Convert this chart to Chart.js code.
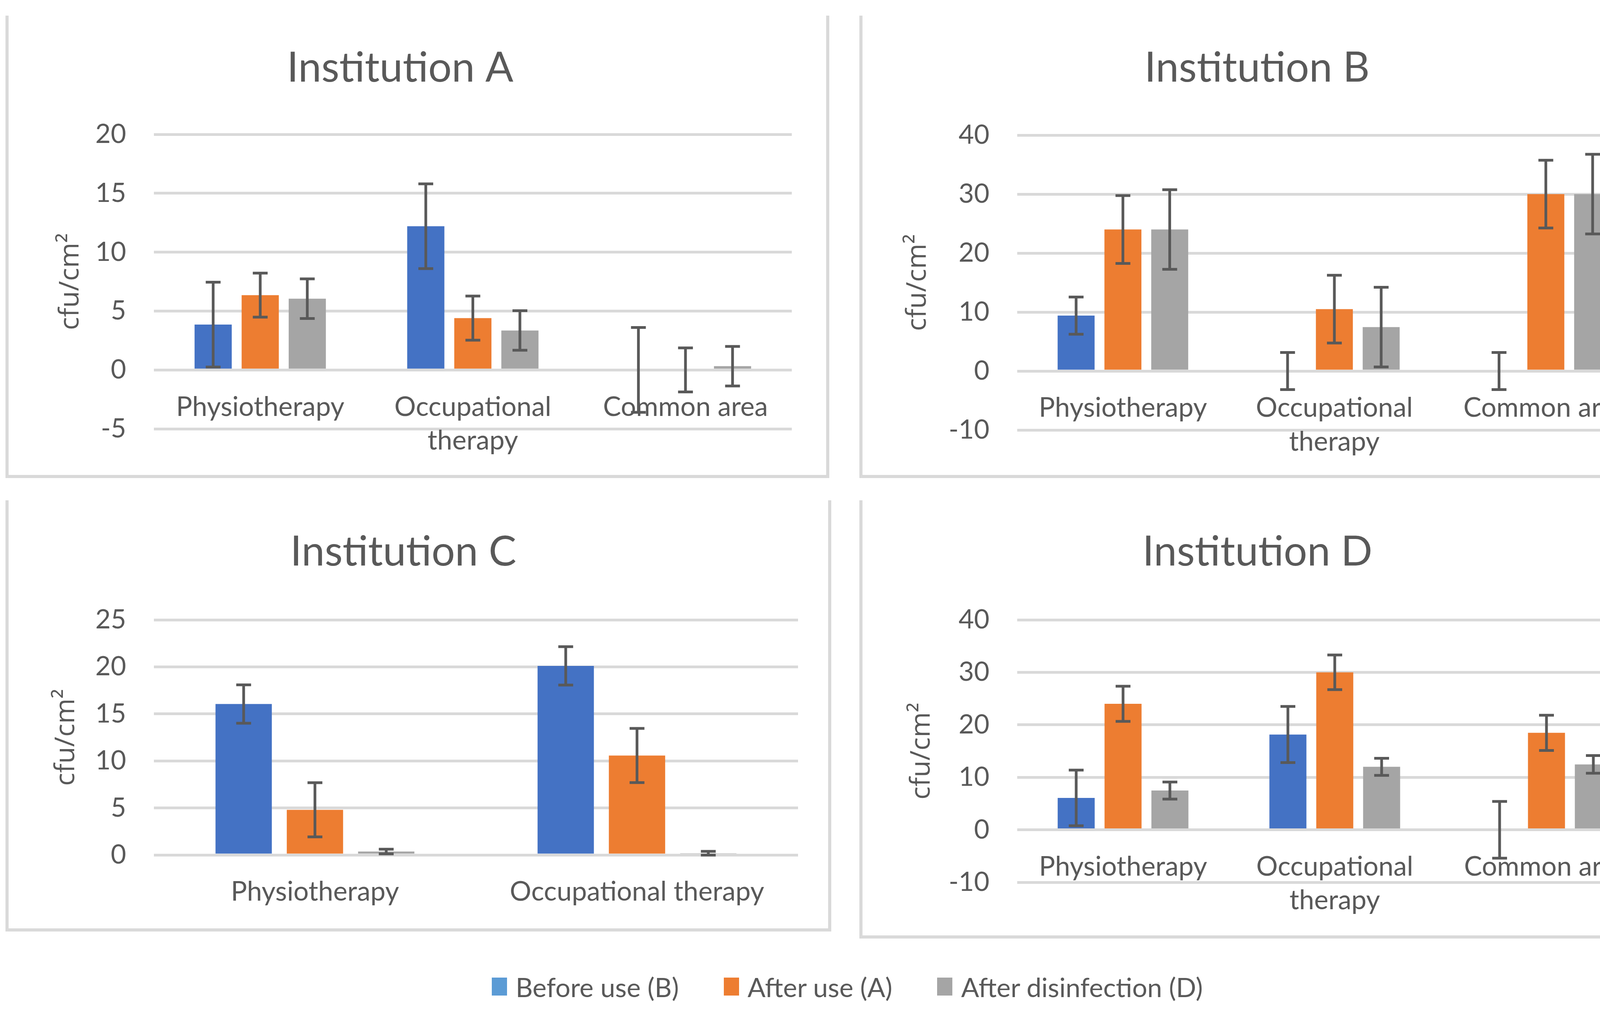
<!DOCTYPE html>
<html>
<head>
<meta charset="utf-8">
<script src="https://cdn.jsdelivr.net/npm/chart.js@4.4.1/dist/chart.umd.min.js"></script>
<style>
  html, body { margin: 0; padding: 0; background: #fff; }
  body { width: 4338px; height: 2586px; position: relative; overflow: hidden; font-family: Lato, sans-serif; }
  .panel { position: absolute; box-sizing: border-box; border: 8px solid #d9d9d9; border-top: none; }
  .panel canvas { display: block; }
  #legend { position: absolute; left: 0; top: 2490px; width: 4338px; height: 72px;
            display: flex; justify-content: center; align-items: center; gap: 115px;
            color: #595959; font-size: 68px; }
  .item { display: flex; align-items: center; gap: 22px; }
  .sw { width: 39px; height: 46px; }
</style>
</head>
<body>
<div id="legend"></div>
<script>
// categories
const catsThree = ['Physiotherapy', ['Occupational', 'therapy'], 'Common area'];
const catsTwo = ['Physiotherapy', 'Occupational therapy'];
const seriesNames = ['Before use (B)', 'After use (A)', 'After disinfection (D)'];
const barColors = ['#4472C4', '#ED7D31', '#A5A5A5'];
const legendColors = ['#5B9BD5', '#ED7D31', '#A5A5A5'];

// Institution A
const aBefore = [3.85, 12.2, 0];
const aBeforeErr = [3.6, 3.6, 3.6];
const aAfter = [6.35, 4.4, 0];
const aAfterErr = [1.87, 1.87, 1.87];
const aDisinf = [6.05, 3.35, 0.32];
const aDisinfErr = [1.68, 1.68, 1.68];

// Institution B
const bBefore = [9.4, 0, 0];
const bBeforeErr = [3.15, 3.15, 3.15];
const bAfter = [24.0, 10.5, 30.0];
const bAfterErr = [5.75, 5.75, 5.75];
const bDisinf = [24.0, 7.45, 30.0];
const bDisinfErr = [6.75, 6.75, 6.75];

// Institution C
const cBefore = [16.05, 20.1];
const cBeforeErr = [2.04, 2.04];
const cAfter = [4.8, 10.57];
const cAfterErr = [2.88, 2.88];
const cDisinf = [0.36, 0.18];
const cDisinfErr = [0.25, 0.2];

// Institution D
const dBefore = [6.07, 18.15, 0];
const dBeforeErr = [5.3, 5.35, 5.4];
const dAfter = [24.0, 30.0, 18.47];
const dAfterErr = [3.35, 3.3, 3.35];
const dDisinf = [7.48, 12.0, 12.46];
const dDisinfErr = [1.63, 1.63, 1.68];

// y axis ranges
const yMinA = -5, yMaxA = 20, yStepA = 5;
const yMinB = -10, yMaxB = 40, yStepB = 10;
const yMinC = 0, yMaxC = 25, yStepC = 5;
const yMinD = -10, yMaxD = 40, yStepD = 10;

const textColor = '#595959';
const fontFam = 'Lato, sans-serif';

const errorBars = {
  id: 'errorBars',
  afterDatasetsDraw(chart) {
    const ctx = chart.ctx;
    const y = chart.scales.y;
    ctx.save();
    ctx.strokeStyle = '#595959';
    ctx.lineWidth = 7;
    chart.data.datasets.forEach((ds, i) => {
      const meta = chart.getDatasetMeta(i);
      meta.data.forEach((bar, j) => {
        const v = ds.data[j], e = ds.errors[j];
        const top = y.getPixelForValue(v + e);
        const bot = y.getPixelForValue(v - e);
        ctx.beginPath();
        ctx.moveTo(bar.x, top); ctx.lineTo(bar.x, bot);
        ctx.moveTo(bar.x - 19, top); ctx.lineTo(bar.x + 19, top);
        ctx.moveTo(bar.x - 19, bot); ctx.lineTo(bar.x + 19, bot);
        ctx.stroke();
      });
    });
    ctx.restore();
  }
};

function makePanel(p) {
  const div = document.createElement('div');
  div.className = 'panel';
  div.style.left = p.left + 'px';
  div.style.top = p.top + 'px';
  div.style.width = p.w + 'px';
  div.style.height = p.h + 'px';
  const cw = p.w - 16, ch = p.h - 8;
  const canvas = document.createElement('canvas');
  canvas.width = cw;
  canvas.height = ch;
  canvas.style.width = cw + 'px';
  canvas.style.height = ch + 'px';
  div.appendChild(canvas);
  document.body.appendChild(div);

  const titleSize = 106, titleLH = titleSize * 1.2;
  const tPadTop = p.titleY - titleLH / 2;
  const axSize = 70, axLH = axSize * 1.2;

  new Chart(canvas, {
    type: 'bar',
    data: {
      labels: p.labels,
      datasets: p.series.map((s, i) => ({
        label: seriesNames[i],
        data: s[0],
        errors: s[1],
        backgroundColor: barColors[i],
        borderWidth: 0,
        categoryPercentage: 0.664,
        barPercentage: 0.79
      }))
    },
    options: {
      responsive: false,
      animation: false,
      devicePixelRatio: 1,
      layout: { padding: { left: 0, top: 0, right: cw - p.plotRight, bottom: ch - p.plotBottom } },
      plugins: {
        legend: { display: false },
        tooltip: { enabled: false },
        title: {
          display: true, text: p.title, color: textColor,
          font: { family: fontFam, size: titleSize, weight: 'normal', lineHeight: 1.2 },
          padding: { top: tPadTop, bottom: p.plotTop - tPadTop - titleLH }
        }
      },
      scales: {
        x: {
          position: { y: 0 },
          grid: { display: false, drawTicks: false },
          border: { display: false },
          ticks: { padding: 52, color: textColor, maxRotation: 0, autoSkip: false,
                   font: { family: fontFam, size: 69, lineHeight: 1.25 } }
        },
        y: {
          min: p.yMin, max: p.yMax,
          ticks: { stepSize: p.yStep, padding: 71, color: textColor,
                   font: { family: fontFam, size: 68 } },
          grid: { color: '#d9d9d9', lineWidth: 7, drawTicks: false },
          border: { display: false },
          title: {
            display: true, text: 'cfu/cm²', color: textColor,
            font: { family: '"Open Sans", sans-serif', size: axSize, lineHeight: 1.2 },
            padding: { top: p.axisX - axLH / 2, bottom: 0 }
          },
          afterFit(s) { s.width = p.plotLeft; }
        }
      }
    },
    plugins: [errorBars]
  });
}

makePanel({ left: 14, top: 40, w: 2109, h: 1184, title: 'Institution A', labels: catsThree,
  series: [[aBefore, aBeforeErr], [aAfter, aAfterErr], [aDisinf, aDisinfErr]],
  yMin: yMinA, yMax: yMaxA, yStep: yStepA,
  titleY: 135, plotTop: 304, plotBottom: 1058, plotLeft: 372, plotRight: 2005, axisX: 159 });

makePanel({ left: 2200, top: 40, w: 2125, h: 1184, title: 'Institution B', labels: catsThree,
  series: [[bBefore, bBeforeErr], [bAfter, bAfterErr], [bDisinf, bDisinfErr]],
  yMin: yMinB, yMax: yMaxB, yStep: yStepB,
  titleY: 135, plotTop: 306, plotBottom: 1061, plotLeft: 396, plotRight: 2020, axisX: 142 });

makePanel({ left: 14, top: 1281, w: 2114, h: 1104, title: 'Institution C', labels: catsTwo,
  series: [[cBefore, cBeforeErr], [cAfter, cAfterErr], [cDisinf, cDisinfErr]],
  yMin: yMinC, yMax: yMaxC, yStep: yStepC,
  titleY: 133, plotTop: 306, plotBottom: 908, plotLeft: 372, plotRight: 2021, axisX: 148 });

makePanel({ left: 2200, top: 1281, w: 2125, h: 1122, title: 'Institution D', labels: catsThree,
  series: [[dBefore, dBeforeErr], [dAfter, dAfterErr], [dDisinf, dDisinfErr]],
  yMin: yMinD, yMax: yMaxD, yStep: yStepD,
  titleY: 133, plotTop: 306, plotBottom: 978, plotLeft: 396, plotRight: 2022, axisX: 152 });

// shared legend
const legend = document.getElementById('legend');
seriesNames.forEach((name, i) => {
  const item = document.createElement('div');
  item.className = 'item';
  const sw = document.createElement('div');
  sw.className = 'sw';
  sw.style.background = legendColors[i];
  const txt = document.createElement('span');
  txt.textContent = name;
  item.appendChild(sw);
  item.appendChild(txt);
  legend.appendChild(item);
});
</script>
</body>
</html>
